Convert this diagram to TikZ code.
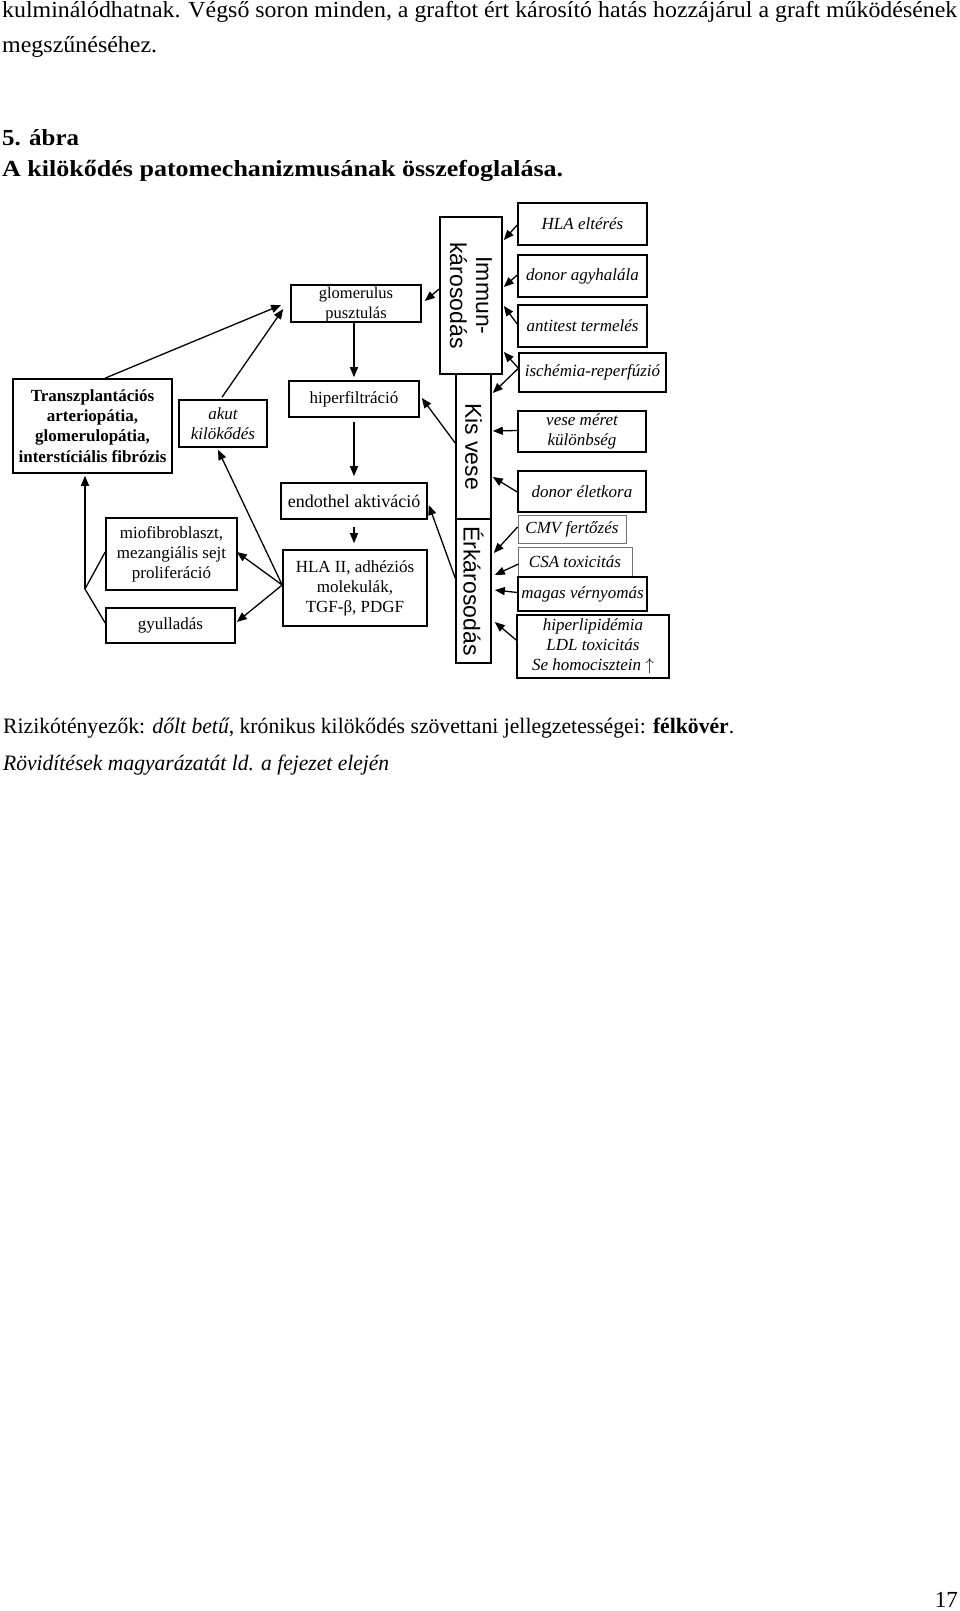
\documentclass[tikz,border=0pt]{standalone}
\usepackage{fontspec}
\setmainfont{Liberation Serif}
\newfontfamily\arialf{Liberation Sans}
\usetikzlibrary{arrows.meta,calc}
\newcommand\fitw[2]{\resizebox{#1}{\height}{#2}}
\begin{document}
\begin{tikzpicture}[x=1pt,y=-1pt,
  bx/.style={draw, line width=1.6pt, inner sep=0pt, align=center, font=\fontsize{17}{20}\selectfont},
  gbx/.style={bx, draw=black!55, line width=0.9pt},
  ibx/.style={bx, font=\fontsize{17}{20}\selectfont\itshape},
  gibx/.style={gbx, font=\fontsize{17}{20}\selectfont\itshape},
  vtxt/.style={rotate=-90, inner sep=0pt, align=center, font=\fontsize{23}{26}\selectfont\arialf},
  arr/.style={line width=1.3pt, -{Triangle[length=10pt,width=8pt]}},
  ln/.style={line width=1.3pt},
  para/.style={anchor=base west, inner sep=0pt, font=\fontsize{23}{27}\selectfont},
]
\useasboundingbox (0,0) rectangle (960,1611);

% running text
\node[para] (l1) at (2,17.5) {\fitw{955pt}{kulminálódhatnak. Végső soron minden, a graftot ért károsító hatás hozzájárul a graft működésének}};
\node[para] (l2) at (2,52.3) {\fitw{155pt}{megszűnéséhez.}};
\node[para, font=\fontsize{23}{27}\selectfont\bfseries] (t1) at (2,145) {\fitw{77pt}{5. ábra}};
\node[para, font=\fontsize{23}{27}\selectfont\bfseries] (t2) at (2,176) {\fitw{561pt}{A kilökődés patomechanizmusának összefoglalása.}};
\node[para, font=\fontsize{22}{26}\selectfont] (c1) at (3,733) {\fitw{731pt}{Rizikótényezők: \textit{dőlt betű}, krónikus kilökődés szövettani jellegzetességei: \textbf{félkövér}.}};
\node[para, font=\fontsize{22}{26}\selectfont\itshape] (c2) at (3,770) {\fitw{386pt}{Rövidítések magyarázatát ld. a fejezet elején}};
\node[anchor=base east, inner sep=0pt, font=\fontsize{23}{27}\selectfont] (pg) at (958,1607) {17};

% left column
\node[bx, font=\fontsize{17}{20.3}\selectfont\bfseries, minimum width=159pt, minimum height=94pt] (trans) at (92.5,426) {Transzplantációs\\arteriopátia,\\glomerulopátia,\\interstíciális fibrózis};
\node[ibx, minimum width=88pt, minimum height=47pt] (akut) at (223,423.5) {akut\\kilökődés};
\node[bx, minimum width=131pt, minimum height=72pt] (miof) at (171.5,554) {miofibroblaszt,\\mezangiális sejt\\proliferáció};
\node[bx, minimum width=129pt, minimum height=35pt] (gyull) at (170.5,625.5) {gyulladás};

% middle column
\node[bx, minimum width=130pt, minimum height=37pt] (glom) at (356,303.5) {};
\node[inner sep=0pt, align=center, font=\fontsize{16.5}{20}\selectfont] (glomt) at ($(glom.center)+(0,1.5)$) {glomerulus\\pusztulás};
\node[bx, minimum width=130pt, minimum height=36pt] (hiper) at (354,399) {hiperfiltráció};
\node[bx, minimum width=146pt, minimum height=36pt, font=\fontsize{18}{21}\selectfont] (endo) at (354,501) {endothel aktiváció};
\node[bx, minimum width=144pt, minimum height=76pt] (hla2) at (355,588) {HLA II, adhéziós\\molekulák,\\TGF-β, PDGF};

% vertical boxes
\node[bx, minimum width=62pt, minimum height=157pt] (immun) at (471,295.5) {};
\node[vtxt] (immunt) at (immun.center) {Immun-\\károsodás};
\node[bx, minimum width=35pt, minimum height=145pt] (kis) at (473.5,446.5) {};
\node[vtxt] (kist) at (kis.center) {Kis vese};
\node[bx, minimum width=35pt, minimum height=144pt] (erk) at (473.5,591) {};
\node[vtxt] (erkt) at (erk.center) {Érkárosodás};

% right column (risk factors)
\node[ibx, minimum width=129pt, minimum height=42pt] (hlae) at (582.5,224) {HLA eltérés};
\node[ibx, minimum width=129pt, minimum height=42pt] (donag) at (582.5,276) {donor agyhalála};
\node[ibx, minimum width=129pt, minimum height=42pt] (antit) at (582.5,326) {antitest termelés};
\node[ibx, minimum width=147pt, minimum height=39pt] (isch) at (592.5,372.5) {ischémia-reperfúzió};
\node[ibx, minimum width=128pt, minimum height=41pt] (vese) at (582,431.5) {vese méret\\különbség};
\node[ibx, minimum width=128pt, minimum height=41pt] (donel) at (582,491.5) {donor életkora};
\node[gibx, minimum width=108pt, minimum height=28pt] (cmv) at (572,529) {CMV fertőzés};
\node[gibx, minimum width=114pt, minimum height=29pt] (csa) at (575,561.5) {CSA toxicitás};
\node[ibx, minimum width=129pt, minimum height=34pt] (magas) at (582.5,594) {magas vérnyomás};
\node[ibx, minimum width=152pt, minimum height=63pt] (hlip) at (593,646.5) {hiperlipidémia\\LDL toxicitás\\Se homocisztein $\uparrow$};

% connectors: left part
\draw[arr] ($(trans.north)+(12.5,0)$) -- ($(glom.west)+(-9,1.5)$);
\draw[arr] ($(akut.north)+(-1,-2)$) -- ($(glom.west)+(-7,5.5)$);
\draw[arr] ($(hla2.west)+(0,-3)$) -- ($(akut.south)+(-5,2)$);
\draw[arr] ($(hla2.west)+(0,-3)$) -- ($(miof.east)+(-1,-2)$);
\draw[arr] ($(hla2.west)+(0,-3)$) -- ($(gyull.east)+(1,-3.5)$);
\coordinate (j) at (85,589);
\draw[ln] ($(miof.west)+(0,-2)$) -- (j) -- ($(gyull.west)+(0,-2.5)$);
\draw[arr] (j) -- ($(trans.south)+(-7.5,2)$);

% middle chain
\draw[arr] (glom.south -| hiper.north) -- ($(hiper.north)+(0,-3)$);
\draw[arr] ($(hiper.south)+(0,4)$) -- ($(endo.north)+(0,-6)$);
\draw[arr] ($(endo.south)+(0,7)$) -- ($(hla2.north)+(-1,-6)$);

% from vertical boxes
\draw[arr] ($(immun.west)+(0,-6.5)$) -- ($(glom.east)+(3,-2.5)$);
\draw[arr] ($(kis.west)+(0,-3.5)$) -- ($(hiper.east)+(2,-1)$);
\draw[arr] ($(erk.west)+(0,-13)$) -- ($(endo.east)+(1,4)$);

% risk factors to vertical boxes
\draw[arr] ($(hlae.west)+(0,1)$) -- ($(immun.east)+(1,-55.5)$);
\draw[arr] ($(donag.west)+(0,-1)$) -- ($(immun.east)+(1,-8.5)$);
\draw[arr] ($(antit.west)+(0,-2)$) -- ($(immun.east)+(1,10.5)$);
\draw[arr] ($(isch.west)+(0,-4.5)$) -- ($(immun.east)+(1,56.5)$);
\draw[arr] ($(isch.west)+(0,-4)$) -- ($(kis.east)+(1,-53.5)$);
\draw[arr] ($(vese.west)+(0,-1)$) -- ($(kis.east)+(1,-15.5)$);
\draw[arr] ($(donel.west)+(0,0.5)$) -- ($(kis.east)+(1,30.5)$);
\draw[arr] ($(cmv.west)+(0,-2)$) -- ($(erk.east)+(2,-38)$);
\draw[arr] ($(csa.west)+(1,2.5)$) -- ($(erk.east)+(3,-16)$);
\draw[arr] ($(magas.west)+(0,-1.5)$) -- ($(erk.east)+(3,-1)$);
\draw[arr] ($(hlip.west)+(0,-6.5)$) -- ($(erk.east)+(3,31)$);
\end{tikzpicture}
\end{document}
